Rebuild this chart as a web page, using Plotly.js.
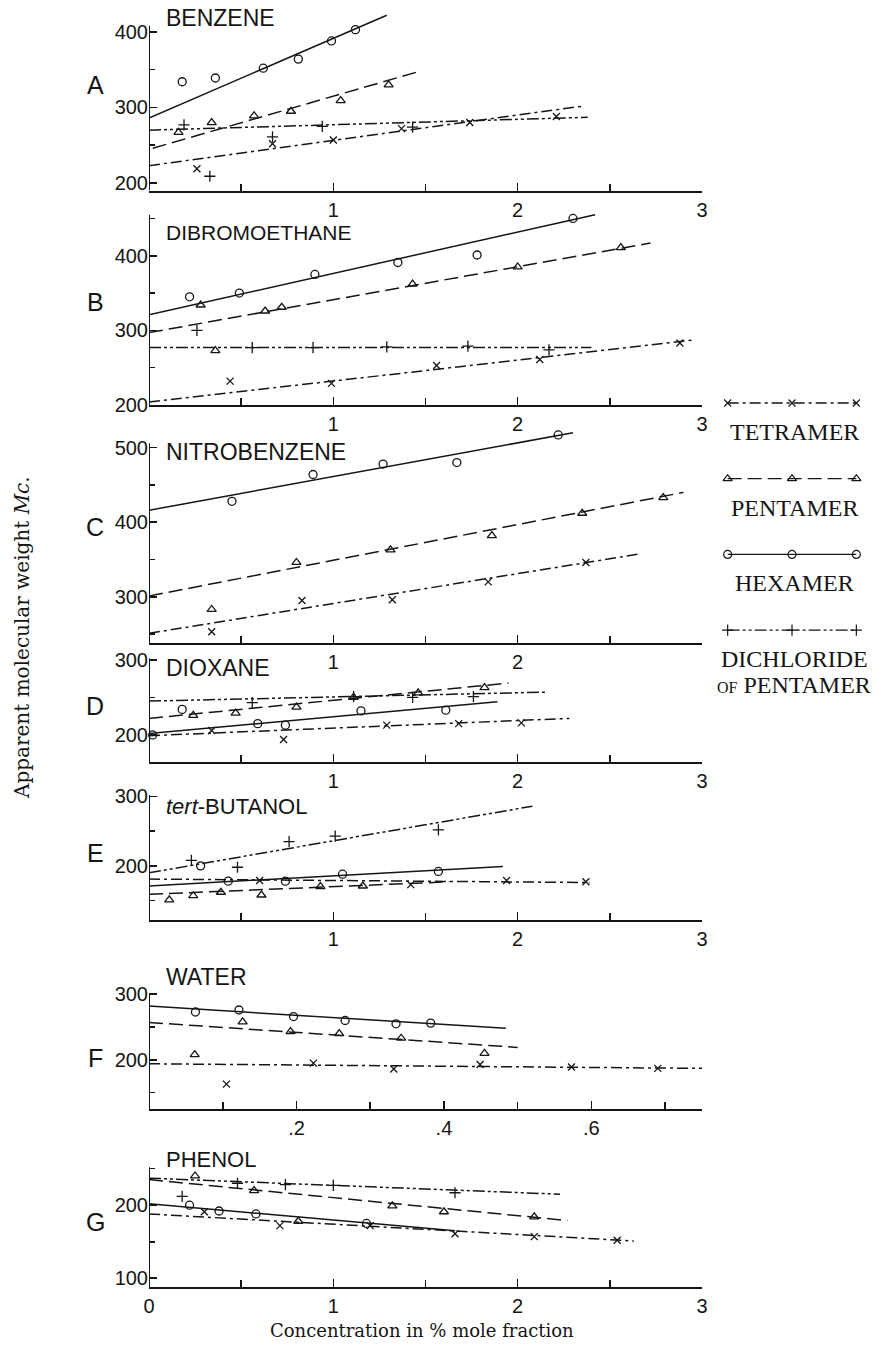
<!DOCTYPE html>
<html><head><meta charset="utf-8">
<script src="https://cdn.plot.ly/plotly-3.0.1.min.js"></script>
<style>body{margin:0;background:#fff}</style></head>
<body><div id="chart" style="width:887px;height:1349px"></div>
<script>
// ---------- DATA ----------
// A  BENZENE
const A_TET_X=[0.26,0.67,1.0,1.37,1.74,2.21], A_TET_Y=[219,252,257,272,280,288], A_TET_LX=[0,2.36], A_TET_LY=[223,302];
const A_PEN_X=[0.16,0.34,0.57,0.77,1.04,1.3], A_PEN_Y=[267,280,289,295,309,330], A_PEN_LX=[0.02,1.47], A_PEN_LY=[246,348];
const A_HEX_X=[0.18,0.36,0.62,0.81,0.99,1.12], A_HEX_Y=[334,339,352,364,388,403], A_HEX_LX=[0,1.29], A_HEX_LY=[286,422];
const A_DIC_X=[0.19,0.33,0.67,0.94,1.43], A_DIC_Y=[277,209,261,275,274], A_DIC_LX=[0,2.38], A_DIC_LY=[270,287];
// B  DIBROMOETHANE
const B_TET_X=[0.44,0.99,1.56,2.12,2.88], B_TET_Y=[232,229,253,261,283], B_TET_LX=[0,2.95], B_TET_LY=[204,287];
const B_PEN_X=[0.28,0.36,0.63,0.72,1.43,2.0,2.56], B_PEN_Y=[334,273,326,331,362,385,411], B_PEN_LX=[0,2.72], B_PEN_LY=[297,417];
const B_HEX_X=[0.22,0.49,0.9,1.35,1.78,2.3], B_HEX_Y=[345,350,375,391,401,450], B_HEX_LX=[0,2.42], B_HEX_LY=[321,455];
const B_DIC_X=[0.26,0.56,0.89,1.29,1.73,2.17], B_DIC_Y=[300,277,277,278,279,274], B_DIC_LX=[0,2.4], B_DIC_LY=[277,277];
// C  NITROBENZENE
const C_TET_X=[0.34,0.83,1.32,1.84,2.37], C_TET_Y=[253,295,296,320,346], C_TET_LX=[0,2.65], C_TET_LY=[251,357];
const C_PEN_X=[0.34,0.8,1.31,1.86,2.35,2.79], C_PEN_Y=[283,346,363,382,412,433], C_PEN_LX=[0,2.9], C_PEN_LY=[301,440];
const C_HEX_X=[0.45,0.89,1.27,1.67,2.22], C_HEX_Y=[428,464,478,480,517], C_HEX_LX=[0,2.3], C_HEX_LY=[416,520];
// D  DIOXANE
const D_TET_X=[0.34,0.73,1.29,1.68,2.02], D_TET_Y=[206,194,213,215,216], D_TET_LX=[0,2.28], D_TET_LY=[199,222];
const D_PEN_X=[0.24,0.47,0.8,1.11,1.46,1.82], D_PEN_Y=[226,229,237,250,256,263], D_PEN_LX=[0,1.95], D_PEN_LY=[222,269];
const D_HEX_X=[0.02,0.18,0.59,0.74,1.15,1.61], D_HEX_Y=[200,234,215,213,232,233], D_HEX_LX=[0,1.89], D_HEX_LY=[202,244];
const D_DIC_X=[0.56,1.11,1.43,1.76], D_DIC_Y=[243,251,250,251], D_DIC_LX=[0,2.16], D_DIC_LY=[245,257];
// E  tert-BUTANOL
const E_TET_X=[0.6,1.42,1.94,2.37], E_TET_Y=[179,173,179,177], E_TET_LX=[0,2.39], E_TET_LY=[181,176];
const E_PEN_X=[0.11,0.24,0.39,0.61,0.93,1.16], E_PEN_Y=[151,157,162,158,170,171], E_PEN_LX=[0,1.63], E_PEN_LY=[159,177];
const E_HEX_X=[0.28,0.43,0.74,1.05,1.57], E_HEX_Y=[200,178,178,188,192], E_HEX_LX=[0,1.92], E_HEX_LY=[171,199];
const E_DIC_X=[0.23,0.48,0.76,1.01,1.57], E_DIC_Y=[208,198,235,243,252], E_DIC_LX=[0,2.08], E_DIC_LY=[190,286];
// F  WATER
const F_TET_X=[0.105,0.223,0.332,0.449,0.573,0.69], F_TET_Y=[163,195,186,193,189,187], F_TET_LX=[0,0.75], F_TET_LY=[194,187];
const F_PEN_X=[0.062,0.127,0.192,0.258,0.342,0.455], F_PEN_Y=[208,258,243,240,233,210], F_PEN_LX=[0,0.5], F_PEN_LY=[257,219];
const F_HEX_X=[0.063,0.122,0.196,0.266,0.335,0.382], F_HEX_Y=[273,276,266,260,255,256], F_HEX_LX=[0,0.484], F_HEX_LY=[282,248];
// G  PHENOL
const G_TET_X=[0.3,0.71,1.2,1.66,2.09,2.54], G_TET_Y=[191,172,172,161,157,152], G_TET_LX=[0,2.63], G_TET_LY=[188,151];
const G_PEN_X=[0.25,0.57,0.81,1.32,1.6,2.09], G_PEN_Y=[240,220,178,199,191,184], G_PEN_LX=[0,2.27], G_PEN_LY=[235,179];
const G_HEX_X=[0.22,0.38,0.58,1.18], G_HEX_Y=[200,192,188,175], G_HEX_LX=[0,1.66], G_HEX_LY=[202,165];
const G_DIC_X=[0.18,0.48,0.74,1.0,1.66], G_DIC_Y=[212,230,228,227,217], G_DIC_LX=[0,2.23], G_DIC_LY=[237,215];

// tick labels
const X_TICKS_123=[1,2,3], X_TICKS_12=[1,2], X_TICKS_0123=[0,1,2,3], X_MINOR_HALF=[0.5,1.5,2.5];
const X_TICKS_F=[0.2,0.4,0.6], X_TICKTEXT_F=['.2','.4','.6'], X_MINOR_F=[0.1,0.3,0.5,0.7];
const Y_TICKS_A=[200,300,400], Y_MINOR_A=[250,350];
const Y_TICKS_B=[200,300,400], Y_MINOR_B=[250,350,450];
const Y_TICKS_C=[300,400,500], Y_MINOR_C=[250,350,450];
const Y_TICKS_D=[200,300], Y_MINOR_D=[250];
const Y_TICKS_E=[200,300], Y_MINOR_E=[150,250];
const Y_TICKS_F=[200,300], Y_MINOR_F=[150,250];
const Y_TICKS_G=[100,200], Y_MINOR_G=[150,250];

const SOLVENTS=['BENZENE','DIBROMOETHANE','NITROBENZENE','DIOXANE','<i>tert</i>-BUTANOL','WATER','PHENOL'];
const LETTERS=['A','B','C','D','E','F','G'];
const LEGEND_NAMES=['TETRAMER','PENTAMER','HEXAMER','DICHLORIDE'];
const LEGEND_KEY_X=[0,1,2];

// ---------- LAYOUT ----------
const W=887,H=1349, INK='#151515';
const SERIES_STYLE={
  tet:{symbol:'x-thin-open',size:7,dash:'11px,4px,3px,4px'},
  pen:{symbol:'triangle-up-open',size:8,dash:'14px,6px'},
  hex:{symbol:'circle-open',size:8,dash:'solid'},
  dic:{symbol:'cross-thin-open',size:8,dash:'12px,3px,3px,3px,3px,3px'}
};
const PANEL_SERIES={
  A:{tet:[A_TET_X,A_TET_Y,A_TET_LX,A_TET_LY],pen:[A_PEN_X,A_PEN_Y,A_PEN_LX,A_PEN_LY],hex:[A_HEX_X,A_HEX_Y,A_HEX_LX,A_HEX_LY],dic:[A_DIC_X,A_DIC_Y,A_DIC_LX,A_DIC_LY]},
  B:{tet:[B_TET_X,B_TET_Y,B_TET_LX,B_TET_LY],pen:[B_PEN_X,B_PEN_Y,B_PEN_LX,B_PEN_LY],hex:[B_HEX_X,B_HEX_Y,B_HEX_LX,B_HEX_LY],dic:[B_DIC_X,B_DIC_Y,B_DIC_LX,B_DIC_LY]},
  C:{tet:[C_TET_X,C_TET_Y,C_TET_LX,C_TET_LY],pen:[C_PEN_X,C_PEN_Y,C_PEN_LX,C_PEN_LY],hex:[C_HEX_X,C_HEX_Y,C_HEX_LX,C_HEX_LY]},
  D:{tet:[D_TET_X,D_TET_Y,D_TET_LX,D_TET_LY],pen:[D_PEN_X,D_PEN_Y,D_PEN_LX,D_PEN_LY],hex:[D_HEX_X,D_HEX_Y,D_HEX_LX,D_HEX_LY],dic:[D_DIC_X,D_DIC_Y,D_DIC_LX,D_DIC_LY]},
  E:{tet:[E_TET_X,E_TET_Y,E_TET_LX,E_TET_LY],pen:[E_PEN_X,E_PEN_Y,E_PEN_LX,E_PEN_LY],hex:[E_HEX_X,E_HEX_Y,E_HEX_LX,E_HEX_LY],dic:[E_DIC_X,E_DIC_Y,E_DIC_LX,E_DIC_LY]},
  F:{tet:[F_TET_X,F_TET_Y,F_TET_LX,F_TET_LY],pen:[F_PEN_X,F_PEN_Y,F_PEN_LX,F_PEN_LY],hex:[F_HEX_X,F_HEX_Y,F_HEX_LX,F_HEX_LY]},
  G:{tet:[G_TET_X,G_TET_Y,G_TET_LX,G_TET_LY],pen:[G_PEN_X,G_PEN_Y,G_PEN_LX,G_PEN_LY],hex:[G_HEX_X,G_HEX_Y,G_HEX_LX,G_HEX_LY],dic:[G_DIC_X,G_DIC_Y,G_DIC_LX,G_DIC_LY]}
};
// pixel geometry of each panel (top/bottom of plot area), label positions and sizes
const GEO=[
  {top:13,bot:190.6,yr:[190,425],ytop:408,yt:Y_TICKS_A,ym:Y_MINOR_A,xr:[0,3],xt:X_TICKS_123,xtt:null,xm:X_MINOR_HALF,ly:85,ny:18,ns:23},
  {top:211,bot:405,yr:[200,460],ytop:455,yt:Y_TICKS_B,ym:Y_MINOR_B,xr:[0,3],xt:X_TICKS_123,xtt:null,xm:X_MINOR_HALF,ly:302,ny:233,ns:21},
  {top:429,bot:643,yr:[238,525],ytop:506,yt:Y_TICKS_C,ym:Y_MINOR_C,xr:[0,3],xt:X_TICKS_12,xtt:null,xm:X_MINOR_HALF,ly:527,ny:452,ns:23},
  {top:656,bot:762,yr:[164,305],ytop:302,yt:Y_TICKS_D,ym:Y_MINOR_D,xr:[0,3],xt:X_TICKS_123,xtt:null,xm:X_MINOR_HALF,ly:706,ny:668,ns:23},
  {top:793,bot:920,yr:[122,305],ytop:302,yt:Y_TICKS_E,ym:Y_MINOR_E,xr:[0,3],xt:X_TICKS_123,xtt:null,xm:X_MINOR_HALF,ly:853,ny:806,ns:22},
  {top:991,bot:1109,yr:[125,305],ytop:302,yt:Y_TICKS_F,ym:Y_MINOR_F,xr:[0,0.75],xt:X_TICKS_F,xtt:X_TICKTEXT_F,xm:X_MINOR_F,ly:1058,ny:977,ns:23},
  {top:1165,bot:1287,yr:[88,255],ytop:252,yt:Y_TICKS_G,ym:Y_MINOR_G,xr:[0,3],xt:X_TICKS_0123,xtt:null,xm:X_MINOR_HALF,ly:1222,ny:1159,ns:22}
];
const X0=149,X1=702;
const SANS='Liberation Sans, Arial, sans-serif', SERIF='Liberation Serif, Times New Roman, serif', DSERIF='DejaVu Serif, serif';
const tickFont={family:SANS,size:20,color:INK};

const traces=[], shapes=[], annotations=[];
const layout={width:W,height:H,margin:{l:0,r:0,t:0,b:0},paper_bgcolor:'#fff',plot_bgcolor:'rgba(0,0,0,0)',showlegend:false};

LETTERS.forEach((L,i)=>{
  const s=i===0?'':String(i+1), g=GEO[i];
  const xa='x'+s, ya='y'+s;
  layout['xaxis'+s]={domain:[X0/W,X1/W],range:g.xr,anchor:ya,showline:true,linewidth:2,linecolor:INK,
    ticks:'inside',ticklen:8,tickwidth:1.6,tickcolor:INK,tickvals:g.xt,ticktext:g.xtt||g.xt.map(String),
    tickfont:tickFont,showgrid:false,zeroline:false,fixedrange:true,
    minor:{tickvals:g.xm,ticks:'inside',ticklen:7,tickwidth:1.6,tickcolor:INK,showgrid:false}};
  layout['yaxis'+s]={domain:[1-g.bot/H,1-g.top/H],range:g.yr,anchor:xa,showline:false,
    ticks:'inside',ticklen:8,tickwidth:1.6,tickcolor:INK,tickvals:g.yt,tickfont:tickFont,
    showgrid:false,zeroline:false,fixedrange:true,
    minor:{tickvals:g.ym,ticks:'inside',ticklen:6,tickwidth:1.6,tickcolor:INK,showgrid:false}};
  shapes.push({type:'line',xref:xa,yref:ya,x0:0,x1:0,y0:g.yr[0],y1:g.ytop,line:{color:INK,width:2}});
  annotations.push({xref:'paper',yref:'paper',x:95/W,y:1-g.ly/H,text:L,showarrow:false,
    font:{family:SANS,size:25,color:INK},xanchor:'center',yanchor:'middle'});
  annotations.push({xref:'paper',yref:'paper',x:164/W,y:1-g.ny/H,text:SOLVENTS[i],showarrow:false,
    font:{family:SANS,size:g.ns,color:INK},xanchor:'left',yanchor:'middle'});
  const ser=PANEL_SERIES[L];
  Object.keys(ser).forEach(k=>{
    const [px,py,lx,ly]=ser[k], st=SERIES_STYLE[k];
    traces.push({type:'scatter',mode:'lines',x:lx,y:ly,xaxis:xa,yaxis:ya,hoverinfo:'skip',
      line:{color:INK,width:1.5,dash:st.dash}});
    traces.push({type:'scatter',mode:'markers',x:px,y:py,xaxis:xa,yaxis:ya,cliponaxis:false,
      marker:{symbol:st.symbol,size:st.size,color:INK,line:{color:INK,width:1.3}}});
  });
});

// legend (keys drawn on a small helper axis, labels as text)
const ROW_PX=75.7, ROW0=403;
layout.xaxis8={domain:[718/W,866/W],range:[-0.15,2.15],visible:false,fixedrange:true,anchor:'y8'};
layout.yaxis8={domain:[1-(ROW0+3.4*ROW_PX)/H,1-(ROW0-0.4*ROW_PX)/H],range:[3.4,-0.4],visible:false,fixedrange:true,anchor:'x8'};
['tet','pen','hex','dic'].forEach((k,r)=>{
  const st=SERIES_STYLE[k];
  traces.push({type:'scatter',mode:'lines+markers',x:LEGEND_KEY_X,y:LEGEND_KEY_X.map(()=>r),xaxis:'x8',yaxis:'y8',
    hoverinfo:'skip',line:{color:INK,width:1.3,dash:st.dash},
    marker:{symbol:st.symbol,size:st.size,color:INK,line:{color:INK,width:1.2}}});
  annotations.push({xref:'paper',yref:'paper',x:794/W,y:1-(ROW0+r*ROW_PX+29)/H,text:LEGEND_NAMES[r],showarrow:false,
    font:{family:SERIF,size:24,color:INK},xanchor:'center',yanchor:'middle'});
});
annotations.push({xref:'paper',yref:'paper',x:794/W,y:1-(ROW0+3*ROW_PX+55)/H,text:'<span style="font-size:16px">OF</span> PENTAMER',showarrow:false,
  font:{family:SERIF,size:24,color:INK},xanchor:'center',yanchor:'middle'});

// axis titles
annotations.push({xref:'paper',yref:'paper',x:22/W,y:1-638/H,text:'Apparent molecular weight <i>Mc</i>.',textangle:-90,
  showarrow:false,font:{family:DSERIF,size:20,color:INK},xanchor:'center',yanchor:'middle'});
annotations.push({xref:'paper',yref:'paper',x:422/W,y:1-1330/H,text:'Concentration in % mole fraction',
  showarrow:false,font:{family:DSERIF,size:18,color:INK},xanchor:'center',yanchor:'middle'});

layout.shapes=shapes; layout.annotations=annotations;
Plotly.newPlot('chart',traces,layout,{staticPlot:true,displayModeBar:false});
</script></body></html>
